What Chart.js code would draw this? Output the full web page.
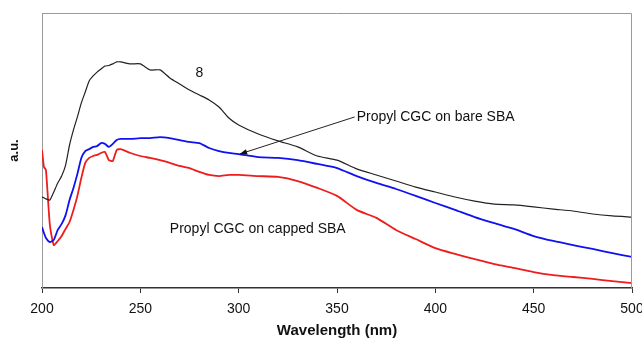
<!DOCTYPE html>
<html>
<head>
<meta charset="utf-8">
<script src="https://cdn.jsdelivr.net/npm/chart.js@4"></script>
<style>
  html, body { margin: 0; padding: 0; background: #fff; }
  #wrap { width: 642px; height: 340px; }
</style>
</head>
<body>
<div id="wrap"><canvas id="chart"></canvas></div>
<script>
const wavelength = [200, 201, 202, 204, 206, 208, 210, 212, 214, 216, 218, 220, 222, 224, 226, 228, 230, 232, 234, 236, 238, 240,
  245, 250, 255, 260, 265, 270, 275, 280, 285, 290, 295, 300, 310, 320, 330, 340, 350, 360, 370, 380, 390, 400,
  410, 420, 430, 440, 450, 460, 470, 480, 490, 500]

const sample8 = [33.1, 32.8, 32.4, 32.0, 34.9, 38.2, 40.7, 44.7, 52.0, 57.5, 62.2, 67.3, 71.3, 75.3, 77.1, 78.5, 79.6, 80.7, 80.9, 81.5, 82.2, 82.2,
  81.5, 81.5, 79.3, 79.3, 76.4, 74.2, 72.0, 70.2, 68.4, 65.8, 61.8, 59.3, 56.0, 53.5, 51.3, 48.0, 46.5, 43.3, 41.1, 38.9, 36.7, 34.9,
  33.1, 31.6, 30.5, 30.2, 29.5, 28.7, 28.0, 26.9, 26.2, 25.8]

const bareSBA = [22.2, 20.0, 18.2, 16.7, 17.5, 21.1, 23.3, 26.5, 32.0, 36.4, 41.5, 47.3, 49.8, 50.5, 51.3, 51.6, 52.7, 52.4, 51.3, 52.4, 53.8, 54.2,
  54.2, 54.5, 54.5, 54.9, 54.5, 53.8, 53.1, 52.7, 50.9, 49.8, 49.1, 48.7, 47.6, 47.3, 46.5, 45.1, 43.6, 40.7, 38.2, 36.0, 33.5, 30.9,
  28.4, 25.8, 23.6, 21.5, 18.9, 17.1, 15.6, 14.2, 12.7, 11.3]

const cappedSBA = [50.2, 44.0, 42.9, 22.9, 15.6, 17.1, 18.9, 21.5, 24.0, 28.4, 33.5, 40.0, 45.5, 47.3, 48.0, 48.4, 49.1, 49.5, 46.5, 46.2, 50.2, 50.5,
  49.1, 48.0, 47.3, 46.5, 45.5, 44.4, 43.6, 42.2, 41.1, 40.7, 41.1, 41.1, 40.7, 40.4, 38.9, 36.4, 33.5, 28.4, 25.5, 21.1, 17.8, 14.5,
  12.4, 10.5, 8.7, 7.3, 5.8, 4.7, 4.0, 3.3, 2.5, 1.8]

const xTicks = [200, 250, 300, 350, 400, 450, 500]

// text annotations placed in data units
const labels = [
  { text: '8', x: 278, y: 78.2 },
  { text: 'Propyl CGC on bare SBA', x: 360, y: 62.2 },
  { text: 'Propyl CGC on capped SBA', x: 265, y: 21.5 }
]
const arrow = { from: [359, 62.2], to: [300.5, 48.7] }

const pts = (ys) => wavelength.map((w, i) => ({ x: w, y: ys[i] }))

const extras = {
  id: 'extras',
  afterDatasetsDraw(chart) {
    const { ctx, chartArea: a, scales: { x, y } } = chart
    ctx.save()
    // box on top and right
    ctx.strokeStyle = '#9a9a9a'
    ctx.lineWidth = 1
    ctx.beginPath()
    ctx.moveTo(a.left, a.top + 0.5)
    ctx.lineTo(a.right - 0.5, a.top + 0.5)
    ctx.lineTo(a.right - 0.5, a.bottom)
    ctx.stroke()

    ctx.fillStyle = '#111'
    ctx.font = '14px "Liberation Sans", Arial, sans-serif'
    ctx.textBaseline = 'middle'
    labels.forEach((l) => {
      ctx.fillText(l.text, x.getPixelForValue(l.x), y.getPixelForValue(l.y))
    })

    const x1 = x.getPixelForValue(arrow.from[0]), y1 = y.getPixelForValue(arrow.from[1])
    const x2 = x.getPixelForValue(arrow.to[0]), y2 = y.getPixelForValue(arrow.to[1])
    ctx.strokeStyle = '#222'
    ctx.beginPath()
    ctx.moveTo(x1, y1)
    ctx.lineTo(x2, y2)
    ctx.stroke()
    const ang = Math.atan2(y2 - y1, x2 - x1)
    ctx.beginPath()
    ctx.moveTo(x2, y2)
    ctx.lineTo(x2 - 8 * Math.cos(ang - 0.35), y2 - 8 * Math.sin(ang - 0.35))
    ctx.lineTo(x2 - 8 * Math.cos(ang + 0.35), y2 - 8 * Math.sin(ang + 0.35))
    ctx.closePath()
    ctx.fillStyle = '#111'
    ctx.fill()
    ctx.restore()
  }
}

new Chart(document.getElementById('chart'), {
  type: 'line',
  data: {
    datasets: [
      { label: '8', data: pts(sample8), borderColor: '#222222', borderWidth: 1.2 },
      { label: 'Propyl CGC on bare SBA', data: pts(bareSBA), borderColor: '#1010f0', borderWidth: 1.8 },
      { label: 'Propyl CGC on capped SBA', data: pts(cappedSBA), borderColor: '#ee1c1c', borderWidth: 1.8 }
    ]
  },
  options: {
    responsive: true,
    maintainAspectRatio: false,
    animation: false,
    elements: { point: { radius: 0 }, line: { tension: 0.2 } },
    layout: { padding: { top: 13, right: 10, left: 0, bottom: 0 } },
    plugins: { legend: { display: false }, tooltip: { enabled: false } },
    scales: {
      x: {
        type: 'linear',
        min: 200,
        max: 500,
        afterBuildTicks: (s) => { s.ticks = xTicks.map((v) => ({ value: v })) },
        afterFit: (s) => { s.height = 52; s.paddingLeft = 0; s.paddingRight = 0 },
        grid: { drawOnChartArea: false, drawTicks: true, tickLength: 5, color: '#333' },
        border: { color: '#333', width: 1.5 },
        ticks: { color: '#111', padding: 8, font: { family: 'Liberation Sans', size: 14 } },
        title: {
          display: true,
          text: 'Wavelength (nm)',
          color: '#111',
          font: { family: 'Liberation Sans', size: 15, weight: 'bold' },
          padding: { top: 0, bottom: 0 }
        }
      },
      y: {
        min: 0,
        max: 100,
        afterFit: (s) => { s.width = 42 },
        grid: { display: false },
        border: { color: '#9a9a9a', width: 1 },
        ticks: { display: false },
        title: {
          display: true,
          text: 'a.u.',
          color: '#111',
          font: { family: 'Liberation Sans', size: 13, weight: 'bold' },
          padding: { top: 7, bottom: 0 }
        }
      }
    }
  },
  plugins: [extras]
})
</script>
</body>
</html>
